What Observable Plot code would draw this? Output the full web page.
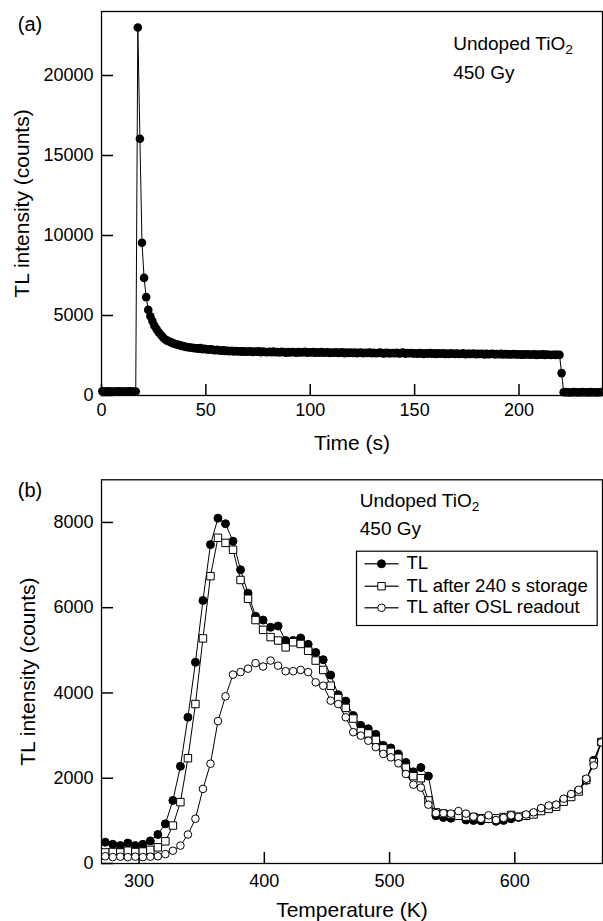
<!DOCTYPE html>
<html><head><meta charset="utf-8">
<script src="https://cdn.jsdelivr.net/npm/d3@7"></script>
<script src="https://cdn.jsdelivr.net/npm/@observablehq/plot@0.6"></script>
<style>html,body{margin:0;padding:0;background:#fff;} svg{display:block;}</style>
</head><body>
<div id="chart"></div>
<script>
// ---------- Panel (a): TL intensity vs time ----------
const timeS = [0.4,1.4,2.4,3.4,4.4,5.4,6.4,7.4,8.4,9.4,10.4,11.4,12.4,13.4,14.4,15.4,16.4,17.4,18.4,19.4,
20.4,21.4,22.4,23.4,24.4,25.4,26.4,27.4,28.4,29.4,30.4,31.4,32.4,33.4,34.4,35.4,36.4,37.4,38.4,39.4,
40.4,41.4,42.4,43.4,44.4,45.4,46.4,47.4,48.4,49.4,50.4,51.4,52.4,53.4,54.4,55.4,56.4,57.4,58.4,59.4,
60.4,61.4,62.4,63.4,64.4,65.4,66.4,67.4,68.4,69.4,70.4,71.4,72.4,73.4,74.4,75.4,76.4,77.4,78.4,79.4,
80.4,81.4,82.4,83.4,84.4,85.4,86.4,87.4,88.4,89.4,90.4,91.4,92.4,93.4,94.4,95.4,96.4,97.4,98.4,99.4,
100.4,101.4,102.4,103.4,104.4,105.4,106.4,107.4,108.4,109.4,110.4,111.4,112.4,113.4,114.4,115.4,116.4,117.4,118.4,119.4,
120.4,121.4,122.4,123.4,124.4,125.4,126.4,127.4,128.4,129.4,130.4,131.4,132.4,133.4,134.4,135.4,136.4,137.4,138.4,139.4,
140.4,141.4,142.4,143.4,144.4,145.4,146.4,147.4,148.4,149.4,150.4,151.4,152.4,153.4,154.4,155.4,156.4,157.4,158.4,159.4,
160.4,161.4,162.4,163.4,164.4,165.4,166.4,167.4,168.4,169.4,170.4,171.4,172.4,173.4,174.4,175.4,176.4,177.4,178.4,179.4,
180.4,181.4,182.4,183.4,184.4,185.4,186.4,187.4,188.4,189.4,190.4,191.4,192.4,193.4,194.4,195.4,196.4,197.4,198.4,199.4,
200.4,201.4,202.4,203.4,204.4,205.4,206.4,207.4,208.4,209.4,210.4,211.4,212.4,213.4,214.4,215.4,216.4,217.4,218.4,219.4,
220.4,221.4,222.4,223.4,224.4,225.4,226.4,227.4,228.4,229.4,230.4,231.4,232.4,233.4,234.4,235.4,236.4,237.4,238.4,239.4];

const tlCounts = [260,250,240,260,250,250,240,250,260,250,250,240,250,260,250,240,250,
23000,16050,9550,7350,6150,5350,
4950,4650,4350,4150,3950,3800,3650,3520,3430,3370,3320,3260,3220,3180,3150,3100,3080,3040,3020,3000,2980,2960,2950,2930,2960,2900,2920,2880,2870,2890,2850,2830,2850,2820,2800,2830,2790,
2790,2770,2800,2760,2780,2750,2770,2740,2760,2730,
2750,2760,2720,2740,2730,2760,2710,2740,2720,2700,
2730,2710,2740,2700,2720,2690,2730,2700,2680,2710,
2690,2720,2700,2680,2710,2690,2700,2730,2680,2700,
2690,2710,2670,2700,2680,2720,2670,2690,2700,2660,
2690,2670,2700,2660,2680,2700,2650,2680,2660,2690,
2660,2680,2650,2670,2690,2640,2670,2660,2680,2650,
2670,2640,2660,2680,2650,2630,2670,2650,2640,2660,
2640,2670,2630,2650,2680,2620,2650,2640,2660,2620,
2640,2610,2650,2630,2600,2640,2620,2650,2610,2630,
2600,2630,2610,2640,2600,2620,2590,2630,2610,2600,
2620,2590,2610,2630,2580,2610,2600,2590,2620,2580,
2600,2590,2610,2570,2600,2580,2590,2610,2570,2590,
2580,2600,2560,2590,2570,2580,2560,2590,2570,2560,
2580,2550,2570,2560,2580,2550,2560,2570,2540,2560,
2550,2570,2540,2560,2550,2530,2550,2540,2550,
2540,1400,200,
210,200,190,200,210,200,190,200,210,200,200,190,210,200,200,190,200,210];

const timeTicks = [0, 50, 100, 150, 200];
const countTicksA = [0, 5000, 10000, 15000, 20000];

// ---------- Panel (b): TL glow curves ----------
const tempK = [273,279,285,291,297,303,309,315,321,327,333,339,345,351,357,363,369,375,381,387,
393,399,405,411,417,423,429,435,441,447,453,459,465,471,477,483,489,495,501,507,
513,519,525,531,537,543,549,555,561,567,573,579,585,591,597,603,609,615,621,627,
633,639,645,651,657,663,669];

const tlFresh = [500,450,420,480,420,450,530,680,930,1480,2280,3430,4720,6170,7480,8100,7970,7560,6890,6340,
5800,5710,5540,5570,5230,5230,5290,5140,4950,4780,4420,3960,3810,3470,3240,3160,3030,2770,2710,2570,
2370,2150,2250,2050,1120,1080,1060,1130,1020,1010,1000,1050,990,1010,1050,1080,1120,1170,1260,1320,
1370,1480,1600,1700,1950,2420,2850];

const tlStorage = [260,270,260,300,270,280,320,380,520,890,1440,2470,3740,5280,6740,7640,7520,7360,6650,6210,
5710,5480,5310,5230,5070,5190,5150,4990,4760,4540,4170,3880,3650,3400,3100,3050,2900,2700,2620,2480,
2250,2050,2000,1480,1200,1170,1150,1120,1100,1090,1060,1050,1060,1090,1140,1100,1120,1150,1230,1280,
1330,1450,1560,1690,1960,2380,2850];

const tlOsl = [170,150,160,150,160,150,160,170,220,300,420,680,1050,1750,2340,3340,3920,4430,4490,4570,
4700,4620,4760,4640,4510,4510,4540,4490,4250,4170,3820,3740,3430,3080,3000,2880,2730,2570,2490,2350,
2100,1850,1780,1380,1180,1180,1170,1230,1170,1100,1050,1130,1020,1070,1130,1090,1150,1200,1300,1360,
1380,1520,1630,1730,1990,2300,2840];

const tempTicks = [300, 400, 500, 600];
const countTicksB = [0, 2000, 4000, 6000, 8000];

const sampleLabel = "Undoped TiO2";
const doseLabel = "450 Gy";
const legendLabels = ["TL", "TL after 240 s storage", "TL after OSL readout"];

// ---------- drawing ----------
const fontFamily = "'Liberation Sans', Arial, Helvetica, sans-serif";
const baseStyle = {fontFamily, fontSize: "18px", color: "black", background: "white", overflow: "visible"};

function label(str, opts) {
  return Plot.text([str], {text: d => d, lineAnchor: "middle", textAnchor: "middle", ...opts});
}

const dataA = timeS.map((t, i) => ({t, v: tlCounts[i]}));

const plotA = Plot.plot({
  width: 603, height: 460,
  marginTop: 11, marginBottom: 65, marginLeft: 101, marginRight: 1,
  style: baseStyle,
  x: {domain: [0, 240], label: null},
  y: {domain: [0, 24000], label: null},
  marks: [
    Plot.frame({stroke: "black", strokeWidth: 1.3}),
    Plot.axisX(timeTicks, {tickSize: -11, tickPadding: 19, strokeWidth: 1.5, tickFormat: d => String(d), label: null, fontSize: 18}),
    Plot.axisY(countTicksA, {tickSize: -12, tickPadding: 20, strokeWidth: 1.5, tickFormat: d => String(d), label: null, fontSize: 18}),
    Plot.line(dataA, {x: "t", y: "v", stroke: "black", strokeWidth: 1}),
    Plot.dot(dataA, {x: "t", y: "v", r: 4.3, fill: "black", stroke: "none"}),
    label("TL intensity (counts)", {frameAnchor: "left", rotate: -90, dx: -79, fontSize: 21}),
    label("Time (s)", {frameAnchor: "bottom", dy: 48, fontSize: 21}),
    label("(a)", {frameAnchor: "top-left", dx: -71.5, dy: 13, fontSize: 20}),
    label(sampleLabel, {frameAnchor: "top-left", textAnchor: "start", dx: 351.7, dy: 43 - 11, fontSize: 19}),
    label(doseLabel, {frameAnchor: "top-left", textAnchor: "start", dx: 351.7, dy: 72 - 11, fontSize: 19})
  ]
});

const series = [
  {name: legendLabels[0], values: tlFresh, fill: "black", symbol: "circle", r: 4},
  {name: legendLabels[1], values: tlStorage, fill: "white", symbol: "square", r: 4.2},
  {name: legendLabels[2], values: tlOsl, fill: "white", symbol: "circle", r: 3.8}
];

const frameH = 863 - 479.3;
const legendRows = [84, 106.4, 128];

const seriesMarks = series.flatMap(s => {
  const d = tempK.map((T, i) => ({T, v: s.values[i]}));
  return [
    Plot.line(d, {x: "T", y: "v", stroke: "black", strokeWidth: 1, clip: true}),
    Plot.dot(d, {x: "T", y: "v", r: s.r, symbol: s.symbol, fill: s.fill, stroke: "black", strokeWidth: 1, clip: true})
  ];
});

const legendMarks = [
  Plot.frame({insetLeft: 255, insetRight: 5.3, insetTop: 71.4, insetBottom: 238, stroke: "black", strokeWidth: 1.2, fill: "white"}),
  ...series.flatMap((s, i) => [
    Plot.frame({insetLeft: 263, insetRight: 204, insetTop: legendRows[i] - 0.6, insetBottom: frameH - legendRows[i] - 0.6, fill: "black", stroke: "none"}),
    Plot.dot([0], {frameAnchor: "top-left", dx: 280, dy: legendRows[i], r: s.r, symbol: s.symbol, fill: s.fill, stroke: "black", strokeWidth: 1}),
    label(s.name, {frameAnchor: "top-left", textAnchor: "start", dx: 305, dy: legendRows[i] - 0.3, fontSize: 18.6})
  ])
];

const plotB = Plot.plot({
  width: 603, height: 461,
  marginTop: 19.3, marginBottom: 58, marginLeft: 101, marginRight: 1,
  style: baseStyle,
  x: {domain: [270, 670], label: null},
  y: {domain: [0, 9000], label: null},
  marks: [
    Plot.frame({stroke: "black", strokeWidth: 1.3}),
    Plot.axisX(tempTicks, {tickSize: -11, tickPadding: 22, strokeWidth: 1.5, tickFormat: d => String(d), label: null, fontSize: 18}),
    Plot.axisY(countTicksB, {tickSize: -12, tickPadding: 20, strokeWidth: 1.5, tickFormat: d => String(d), label: null, fontSize: 18}),
    ...seriesMarks,
    ...legendMarks,
    label("TL intensity (counts)", {frameAnchor: "left", rotate: -90, dx: -73.5, fontSize: 21}),
    label("Temperature (K)", {frameAnchor: "bottom", dy: 47, fontSize: 21}),
    label("(b)", {frameAnchor: "top-left", dx: -71.5, dy: 10.7, fontSize: 20}),
    label(sampleLabel, {frameAnchor: "top-left", textAnchor: "start", dx: 258.3, dy: 500 - 479.3, fontSize: 19}),
    label(doseLabel, {frameAnchor: "top-left", textAnchor: "start", dx: 258.3, dy: 528.3 - 479.3, fontSize: 19})
  ]
});

const chart = document.getElementById("chart");
chart.appendChild(plotA);
chart.appendChild(plotB);

// subscript "2" in TiO2
const svgNS = "http://www.w3.org/2000/svg";
document.querySelectorAll("svg text").forEach(t => {
  if (t.textContent === sampleLabel && t.children.length === 0) {
    t.textContent = "Undoped TiO";
    const ts = document.createElementNS(svgNS, "tspan");
    ts.setAttribute("dy", "0.32em");
    ts.setAttribute("font-size", "0.72em");
    ts.textContent = "2";
    t.appendChild(ts);
  }
});
</script>
</body></html>
